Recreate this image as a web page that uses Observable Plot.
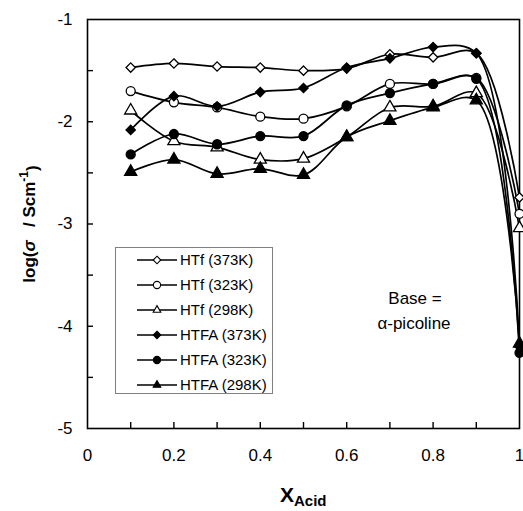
<!DOCTYPE html>
<html><head><meta charset="utf-8">
<script src="https://cdn.jsdelivr.net/npm/d3@7"></script>
<script src="https://cdn.jsdelivr.net/npm/@observablehq/plot@0.6"></script>
<style>body{margin:0;background:#fff} svg{font-family:Arial,"Liberation Sans",sans-serif}</style>
</head><body><div id="chart"></div><script>
const xAcid = [0.1, 0.2, 0.3, 0.4, 0.5, 0.6, 0.7, 0.8, 0.9, 1.0];
const seriesNames = ["HTf (373K)", "HTf (323K)", "HTf (298K)", "HTFA (373K)", "HTFA (323K)", "HTFA (298K)"];
const HTf373  = [-1.47, -1.43, -1.46, -1.47, -1.50, -1.48, -1.34, -1.37, -1.33, -2.74];
const HTf323  = [-1.70, -1.81, -1.86, -1.95, -1.97, -1.85, -1.63, -1.63, -1.57, -2.90];
const HTf298  = [-1.89, -2.19, -2.25, -2.37, -2.36, -2.15, -1.86, -1.85, -1.72, -3.04];
const HTFA373 = [-2.08, -1.75, -1.85, -1.71, -1.67, -1.47, -1.38, -1.27, -1.33, -4.20];
const HTFA323 = [-2.32, -2.12, -2.22, -2.14, -2.14, -1.84, -1.72, -1.63, -1.58, -4.26];
const HTFA298 = [-2.49, -2.37, -2.51, -2.46, -2.52, -2.15, -1.99, -1.86, -1.79, -4.17];
const yTickLabels = [-1, -2, -3, -4, -5];
const yMinorTicks = [-1.5, -2, -2.5, -3, -3.5, -4, -4.5];
const xTickLabels = [0, 0.2, 0.4, 0.6, 0.8, 1];
const xMinorTicks = [0.1, 0.2, 0.3, 0.4, 0.5, 0.6, 0.7, 0.8, 0.9];

const seriesValues = [HTf373, HTf323, HTf298, HTFA373, HTFA323, HTFA298];
const symbols = ["diamond2", "circle", "triangle", "diamond2", "circle", "triangle"];
const fills = ["white", "white", "white", "black", "black", "black"];
const radii = [4.2, 4.5, 4.5, 4.2, 4.5, 4.5];

const W = 523, H = 511, ML = 87, MR = 4, MT = 19, MB = 83;
const TICK = 6;

const marks = [
  Plot.ruleX(xMinorTicks, {x: d => d, stroke: "black", strokeWidth: 1.4, insetTop: (H - MT - MB) - TICK}),
  Plot.ruleY(yMinorTicks, {y: d => d, stroke: "black", strokeWidth: 1.4, insetRight: (W - ML - MR) - TICK}),
  Plot.frame({stroke: "black", strokeWidth: 1.6}),
  Plot.axisY({ticks: yTickLabels, tickSize: 0, tickPadding: 15, tickFormat: d => String(d), label: null, fontSize: 17}),
  Plot.axisX({ticks: xTickLabels, tickSize: 0, tickPadding: 20, tickFormat: d => String(d), label: null, fontSize: 17})
];
seriesValues.forEach((vals, i) => {
  const rows = xAcid.map((x, j) => ({x, y: vals[j]}));
  marks.push(Plot.line(rows, {x: "x", y: "y", curve: "catmull-rom", stroke: "black", strokeWidth: 1.7}));
});
seriesValues.forEach((vals, i) => {
  const rows = xAcid.map((x, j) => ({x, y: vals[j]}));
  marks.push(Plot.dot(rows, {x: "x", y: "y", symbol: symbols[i], r: radii[i], fill: fills[i], stroke: "black", strokeWidth: 1.3}));
});

const svg = Plot.plot({
  width: W, height: H,
  marginLeft: ML, marginRight: MR, marginTop: MT, marginBottom: MB,
  x: {domain: [0, 1]},
  y: {domain: [-5, -1]},
  style: {fontFamily: "Arial, 'Liberation Sans', sans-serif", fontSize: "17px", color: "black", background: "white", overflow: "visible"},
  marks
});
document.getElementById("chart").appendChild(svg);

const s = d3.select(svg);
// legend
const lg = s.append("g").attr("text-anchor", "start");
lg.append("rect").attr("x", 115.5).attr("y", 247.5).attr("width", 157).attr("height", 146)
  .attr("fill", "white").attr("stroke", "#808080").attr("stroke-width", 1);
const symMap = {diamond2: d3.symbolDiamond2, circle: d3.symbolCircle, triangle: d3.symbolTriangle2};
seriesNames.forEach((name, i) => {
  const yy = 260 + i * 25;
  lg.append("line").attr("x1", 137).attr("x2", 177).attr("y1", yy).attr("y2", yy).attr("stroke", "black").attr("stroke-width", 1.4);
  const r = i % 3 === 0 ? 3.4 : 3.6;
  lg.append("path").attr("transform", `translate(157,${yy})`)
    .attr("d", d3.symbol(symMap[symbols[i]], Math.PI * r * r)())
    .attr("fill", fills[i]).attr("stroke", "black").attr("stroke-width", 1.1);
  lg.append("text").attr("x", 180).attr("y", yy).attr("dy", "0.36em").attr("font-size", 15).attr("fill", "black").text(name);
});
// annotation
const ann = s.append("g").attr("font-size", 17).attr("text-anchor", "middle").attr("fill", "black");
ann.append("text").attr("x", 415).attr("y", 304).text("Base =");
ann.append("text").attr("x", 414).attr("y", 329).text("α-picoline");
// y label
const yl = s.append("text").attr("transform", "translate(35,224) rotate(-90)").attr("text-anchor", "middle")
  .attr("font-size", 17).attr("font-weight", "bold").attr("fill", "black");
yl.append("tspan").text("log(");
yl.append("tspan").attr("font-style", "italic").text("σ");
yl.append("tspan").text("\u2002 / Scm");
yl.append("tspan").attr("font-size", 12).attr("dy", "-0.6em").text("-1");
yl.append("tspan").attr("dy", "0.6em").text(")");
// x label
const xl = s.append("text").attr("x", 280).attr("y", 502).attr("text-anchor", "start").attr("font-weight", "bold").attr("fill", "black");
xl.append("tspan").attr("font-size", 21).text("X");
xl.append("tspan").attr("font-size", 15).attr("dy", "4").text("Acid");
</script></body></html>
